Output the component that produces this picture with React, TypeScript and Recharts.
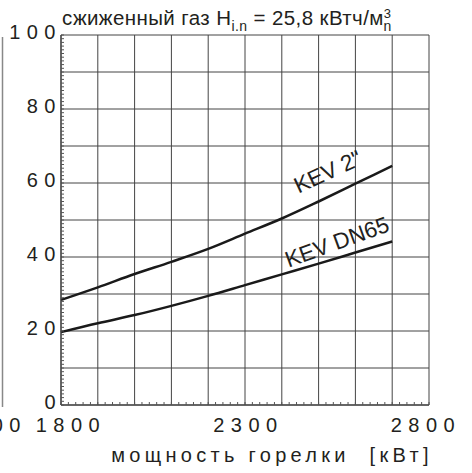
import { LineChart, Line, XAxis, YAxis, ReferenceLine, ReferenceDot } from "recharts";

const POWER = [1800, 1900, 2000, 2100, 2200, 2300, 2400, 2500, 2600, 2700];
const KEV_2 = [28.4, 31.8, 35.4, 38.7, 42.2, 46.3, 50.4, 55.0, 59.8, 64.6];
const KEV_DN65 = [19.7, 22.1, 24.3, 26.8, 29.5, 32.4, 35.3, 38.2, 41.2, 44.2];

const X_LABELS = [1800, 2300, 2800];
const Y_LABELS = [0, 20, 40, 60, 80, 100];
const X_GRID = [1900, 2000, 2100, 2200, 2300, 2400, 2500, 2600, 2700, 2800];
const Y_GRID = [10, 20, 30, 40, 50, 60, 70, 80, 90, 100];
const X_MINOR = Array.from({ length: 51 }, (_, i) => 1800 + i * 20);
const Y_MINOR = Array.from({ length: 101 }, (_, i) => i);

const data = POWER.map((p, i) => ({ p, kev2: KEV_2[i], dn65: KEV_DN65[i] }));

const FONT = "'Liberation Sans', Arial, sans-serif";
const INK = "#231f20";

const YTick = (props: any) => {
  const { x, y, payload } = props;
  const v = payload.value;
  return (
    <g>
      <line x1={x} x2={x + 3} y1={y} y2={y} stroke="#555" strokeWidth={1} />
      {Y_LABELS.includes(v) && (
        <text x={x + 1} y={y + 4} textAnchor="end" fontSize={20} letterSpacing={6.5} fill={INK} fontFamily={FONT}>
          {v}
        </text>
      )}
    </g>
  );
};

const XTick = (props: any) => {
  const { x, y, payload } = props;
  const v = payload.value;
  const shift = ((2300 - v) / 500) * 6.5 + 3.5;
  return (
    <g>
      <line x1={x} x2={x} y1={y} y2={y - 3} stroke="#555" strokeWidth={1} />
      {X_LABELS.includes(v) && (
        <text x={x + shift} y={y + 27} textAnchor="middle" fontSize={20} letterSpacing={6.5} fill={INK} fontFamily={FONT}>
          {v}
        </text>
      )}
    </g>
  );
};

const curveLabel = (text: string, angle: number) => (props: any) => {
  const { viewBox } = props;
  const cx = viewBox.x + viewBox.width / 2;
  const cy = viewBox.y + viewBox.height / 2;
  return (
    <text
      x={cx}
      y={cy}
      textAnchor="middle"
      dominantBaseline="central"
      fontSize={22.5}
      fill={INK}
      fontFamily={FONT}
      transform={`rotate(${angle} ${cx} ${cy})`}
    >
      {text}
    </text>
  );
};

export default function App() {
  return (
    <div style={{ position: "absolute", left: 0, top: 0, width: 472, height: 473, background: "#fff" }}>
      <LineChart width={472} height={473} data={data} margin={{ top: 35, right: 43, bottom: 0, left: 0 }}>
        {X_GRID.map((g) => (
          <ReferenceLine key={"x" + g} x={g} stroke="#444" strokeWidth={1} />
        ))}
        {Y_GRID.map((g) => (
          <ReferenceLine key={"y" + g} y={g} stroke="#444" strokeWidth={1} />
        ))}
        <XAxis
          dataKey="p"
          type="number"
          domain={[1800, 2800]}
          ticks={X_MINOR}
          interval={0}
          tickSize={0}
          tickMargin={0}
          tickLine={false}
          tick={<XTick />}
          height={68}
          axisLine={{ stroke: "#333", strokeWidth: 1.5 }}
        />
        <YAxis
          type="number"
          domain={[0, 100]}
          ticks={Y_MINOR}
          interval={0}
          tickSize={0}
          tickMargin={0}
          tickLine={false}
          tick={<YTick />}
          width={61}
          axisLine={{ stroke: "#333", strokeWidth: 1.5 }}
        />
        <Line dataKey="kev2" type="monotone" stroke="#1a1a1a" strokeWidth={2.5} dot={false} isAnimationActive={false} />
        <Line dataKey="dn65" type="monotone" stroke="#1a1a1a" strokeWidth={2.5} dot={false} isAnimationActive={false} />
        <ReferenceDot x={2525} y={63} r={0} stroke="none" label={curveLabel('KEV 2"', -25)} />
        <ReferenceDot x={2550} y={44} r={0} stroke="none" label={curveLabel("KEV DN65", -20)} />
      </LineChart>
      <svg
        width={472}
        height={473}
        style={{ position: "absolute", left: 0, top: 0, pointerEvents: "none" }}
      >
        <line x1={2.5} x2={2.5} y1={37} y2={407} stroke="#888" strokeWidth={1.5} />
        <text x={27} y={432} textAnchor="end" fontSize={20} letterSpacing={6.5} fill={INK} fontFamily={FONT}>
          2800
        </text>
        <text x={62} y={25} fontSize={20.5} letterSpacing={0.4} fill={INK} fontFamily={FONT}>
          сжиженный газ H
          <tspan fontSize={14} dy={6}>i.n</tspan>
          <tspan fontSize={20.5} dy={-6}> = 25,8 кВтч/м</tspan>
          <tspan fontSize={13} dy={-7}>3</tspan>
          <tspan fontSize={14} dx={-8} dy={13}>n</tspan>
        </text>
        <text
          x={272}
          y={462}
          textAnchor="middle"
          fontSize={20}
          letterSpacing={4.3}
          fill={INK}
          fontFamily={FONT}
          style={{ whiteSpace: "pre" }}
        >
          {"мощность горелки  [кВт]"}
        </text>
      </svg>
    </div>
  );
}
